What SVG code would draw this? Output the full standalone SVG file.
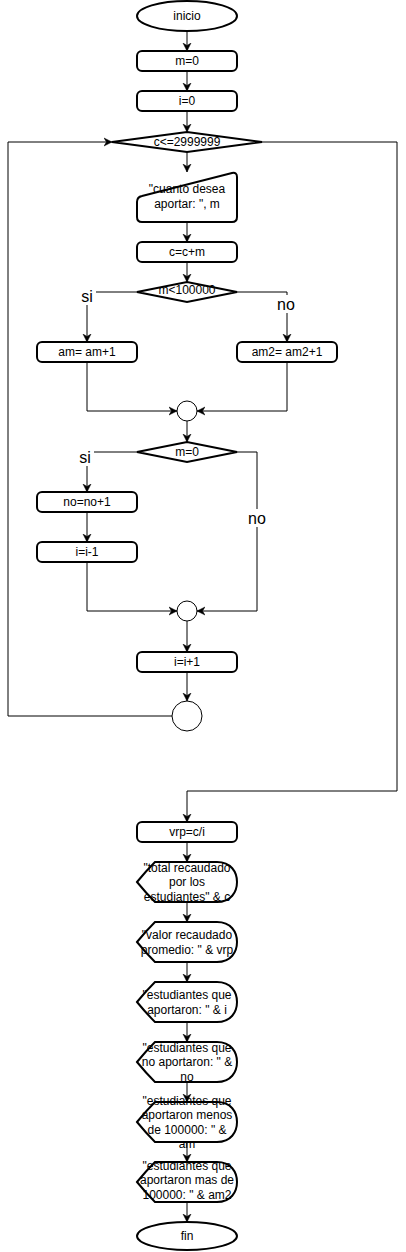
<svg xmlns="http://www.w3.org/2000/svg" width="406" height="1252" viewBox="0 0 406 1252">
<style>
.s{fill:#fff;stroke:#000;stroke-width:2}
.c{fill:#fff;stroke:#000;stroke-width:1}
.e{fill:none;stroke:#000;stroke-width:1}
text{font-family:"Liberation Sans",Arial,sans-serif;font-size:12px;fill:#000;text-anchor:middle}
.lb{font-size:16px}
</style>
<defs>
<marker id="a" markerUnits="userSpaceOnUse" markerWidth="10" markerHeight="10" refX="8" refY="4" orient="auto" viewBox="0 0 10 8">
<path d="M0,0 L8,4 L0,8 L2.5,4 Z" fill="#000" stroke="#000" stroke-width="0.5"/>
</marker>
<path id="disp" d="M0,20 Q9,9 18,0 H80 C94,0 100,10 100,20 C100,30 94,40 80,40 H18 Q9,31 0,20 Z"/>
</defs>
<rect width="406" height="1252" fill="#fff"/>
<g id="connectors">
<path class="e" d="M187,31 V51" marker-end="url(#a)"/>
<path class="e" d="M187,71 V91" marker-end="url(#a)"/>
<path class="e" d="M187,111 V132" marker-end="url(#a)"/>
<path class="e" d="M187,152 V172" marker-end="url(#a)"/>
<path class="e" d="M187,222 V242" marker-end="url(#a)"/>
<path class="e" d="M187,262 V282" marker-end="url(#a)"/>
<path class="e" d="M137,292 H87 V342" marker-end="url(#a)"/>
<path class="e" d="M237,292 H287 V342" marker-end="url(#a)"/>
<path class="e" d="M87,362 V411 H177" marker-end="url(#a)"/>
<path class="e" d="M287,362 V411 H197" marker-end="url(#a)"/>
<path class="e" d="M187,421 V442" marker-end="url(#a)"/>
<path class="e" d="M137,452 H87 V492" marker-end="url(#a)"/>
<path class="e" d="M237,452 H257 V611 H197" marker-end="url(#a)"/>
<path class="e" d="M87,512 V542" marker-end="url(#a)"/>
<path class="e" d="M87,562 V611 H177" marker-end="url(#a)"/>
<path class="e" d="M187,621 V652" marker-end="url(#a)"/>
<path class="e" d="M187,672 V701" marker-end="url(#a)"/>
<path class="e" d="M172,716 H8 V142 H112" marker-end="url(#a)"/>
<path class="e" d="M262,142 H397 V791 H187 V822" marker-end="url(#a)"/>
<path class="e" d="M187,842 V862" marker-end="url(#a)"/>
<path class="e" d="M187,902 V922" marker-end="url(#a)"/>
<path class="e" d="M187,962 V982" marker-end="url(#a)"/>
<path class="e" d="M187,1022 V1042" marker-end="url(#a)"/>
<path class="e" d="M187,1082 V1102" marker-end="url(#a)"/>
<path class="e" d="M187,1142 V1162" marker-end="url(#a)"/>
<path class="e" d="M187,1202 V1222" marker-end="url(#a)"/>
<rect x="79" y="287" width="17" height="18" fill="#fff"/>
<text class="lb" x="87" y="302">si</text>
<rect x="277" y="295" width="20" height="18" fill="#fff"/>
<text class="lb" x="286" y="310">no</text>
<rect x="77" y="448" width="17" height="18" fill="#fff"/>
<text class="lb" x="85" y="463">si</text>
<rect x="247" y="509" width="20" height="18" fill="#fff"/>
<text class="lb" x="257" y="524">no</text>
</g>
<g id="inicio"><ellipse class="s" cx="187" cy="16" rx="50" ry="15"/><text x="187" y="20">inicio</text></g>
<g id="m0"><rect class="s" x="137" y="51" width="100" height="20" rx="5"/><text x="187" y="65">m=0</text></g>
<g id="i0"><rect class="s" x="137" y="91" width="100" height="20" rx="5"/><text x="187" y="105">i=0</text></g>
<g id="cond1"><path class="s" d="M112,142 L187,132 L262,142 L187,152 Z"/><text x="187" y="146">c&lt;=2999999</text></g>
<g id="input"><path class="s" d="M137,202 Q137,197 142,196 L232,173 Q237,172 237,177 V217 Q237,222 232,222 H142 Q137,222 137,217 Z"/><text x="187" y="193">"cuanto desea</text><text x="187" y="208">aportar: ", m</text></g>
<g id="ccm"><rect class="s" x="137" y="242" width="100" height="20" rx="5"/><text x="187" y="256">c=c+m</text></g>
<g id="cond2"><path class="s" d="M137,292 L187,282 L237,292 L187,302 Z"/><text x="187" y="294">m&lt;100000</text></g>
<g id="am"><rect class="s" x="37" y="342" width="100" height="20" rx="5"/><text x="87" y="356">am= am+1</text></g>
<g id="am2"><rect class="s" x="237" y="342" width="100" height="20" rx="5"/><text x="287" y="356">am2= am2+1</text></g>
<g id="join1"><circle class="c" cx="187" cy="411" r="10"/></g>
<g id="cond3"><path class="s" d="M137,452 L187,442 L237,452 L187,462 Z"/><text x="187" y="456">m=0</text></g>
<g id="no"><rect class="s" x="37" y="492" width="100" height="20" rx="5"/><text x="87" y="506">no=no+1</text></g>
<g id="idec"><rect class="s" x="37" y="542" width="100" height="20" rx="5"/><text x="87" y="556">i=i-1</text></g>
<g id="join2"><circle class="c" cx="187" cy="611" r="10"/></g>
<g id="iinc"><rect class="s" x="137" y="652" width="100" height="20" rx="5"/><text x="187" y="666">i=i+1</text></g>
<g id="loop"><circle class="c" cx="187" cy="716" r="15"/></g>
<g id="vrp"><rect class="s" x="137" y="822" width="100" height="20" rx="5"/><text x="187" y="836">vrp=c/i</text></g>
<g id="out1"><use href="#disp" class="s" x="137" y="862"/><text x="187" y="872">"total recaudado</text><text x="187" y="886">por los</text><text x="187" y="901">estudiantes" &amp; c</text></g>
<g id="out2"><use href="#disp" class="s" x="137" y="922"/><text x="187" y="939">"valor recaudado</text><text x="187" y="954">promedio: " &amp; vrp</text></g>
<g id="out3"><use href="#disp" class="s" x="137" y="982"/><text x="187" y="999">"estudiantes que</text><text x="187" y="1014">aportaron: " &amp; i</text></g>
<g id="out4"><use href="#disp" class="s" x="137" y="1042"/><text x="187" y="1052">"estudiantes que</text><text x="187" y="1066">no aportaron: " &amp;</text><text x="187" y="1081">no</text></g>
<g id="out5"><use href="#disp" class="s" x="137" y="1102"/><text x="187" y="1105">"estudiantes que</text><text x="187" y="1119">aportaron menos</text><text x="187" y="1134">de 100000: " &amp;</text><text x="187" y="1148">am</text></g>
<g id="out6"><use href="#disp" class="s" x="137" y="1162"/><text x="187" y="1170">"estudiantes que</text><text x="187" y="1184">aportaron mas de</text><text x="187" y="1199">100000: " &amp; am2</text></g>
<g id="fin"><ellipse class="s" cx="187" cy="1236" rx="50" ry="14"/><text x="187" y="1240">fin</text></g>
</svg>
